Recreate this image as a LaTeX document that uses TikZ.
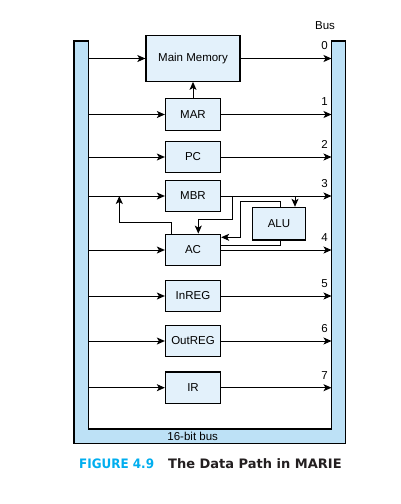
\documentclass[tikz,border=0pt]{standalone}
\usepackage{fontspec}
\setmainfont{Liberation Sans}
\newfontfamily\capfont{DejaVu Sans}
\usetikzlibrary{arrows.meta}
\definecolor{boxfill}{RGB}{227,241,251}
\definecolor{busfill}{RGB}{189,225,246}
\definecolor{figcyan}{RGB}{0,174,239}
\definecolor{captxt}{RGB}{35,31,32}
\begin{document}
\begin{tikzpicture}[x=1pt,y=-1pt,
  reg/.style={draw=black, line width=1.3pt, fill=boxfill, minimum width=55pt, minimum height=31.5pt, inner sep=0pt, font=\fontsize{11.5}{13}\selectfont},
  wire/.style={line width=1pt, draw=black},
  arr/.style={wire, -{Stealth[length=8pt,width=7pt,inset=2pt]}},
  lbl/.style={font=\fontsize{11.5}{13}\selectfont, inner sep=0pt}]
\useasboundingbox (0,0) rectangle (401,504);
\fill[white] (0,0) rectangle (401,504);
% bus
\draw[line width=1.3pt, fill=busfill] (74,41) -- (74,443.5) -- (345.5,443.5) -- (345.5,41) -- (331.5,41) -- (331.5,429) -- (88.5,429) -- (88.5,41) -- cycle;
\node[lbl] (buslbl) at (325,26) {Bus};
\node[lbl] (bitbus) at (192.7,436) {16-bit bus};
% boxes
\node[reg, minimum width=94pt, minimum height=45.5pt] (mem) at (193,58.5) {Main Memory};
\node[reg] (mar) at (193,114.5) {MAR};
\node[reg] (pc) at (193,157) {PC};
\node[reg] (mbr) at (193,196) {MBR};
\node[reg] (ac) at (193,250) {AC};
\node[reg] (inreg) at (193,296) {InREG};
\node[reg] (outreg) at (193,341) {OutREG};
\node[reg] (ir) at (193,387.7) {IR};
\node[reg, minimum width=53pt, minimum height=32.5pt] (alu) at (279,223.7) {ALU};
% bus connections
\foreach \n/\y/\k in {mem/58.5/0, mar/114.5/1, pc/157/2, mbr/196/3, ac/250/4, inreg/296/5, outreg/341/6, ir/387.7/7}{
  \coordinate (L\k) at (88.5,\y);
  \coordinate (R\k) at (331.5,\y);
  \draw[arr] (L\k) -- (\n.west);
  \draw[arr] (\n.east) -- (R\k);
  \node[lbl] (n\k) at (324.5,\y-12.5) {\k};
}
% MAR to memory
\draw[arr] (mar.north) -- (mem.south);
% MBR to ALU
\coordinate (mbrtap) at (295,196);
\draw[arr] (mbrtap) -- (mbrtap |- alu.north);
% MBR to AC
\coordinate (mbrac) at (232.3,196);
\draw[arr] (mbrac) -- (232.3,219.3) -- (198.3,219.3) -- (ac.north -| 198.3,0);
% ALU to AC
\draw[arr] ([xshift=1pt]alu.north) -- ++(0,-5) -| (240.7,237.3) -- (ac.east |- 0,237.3);
% AC to ALU
\draw[wire] (ac.east |- 0,245) -| ([xshift=1pt]alu.south);
% AC to MBR input line
\coordinate (acbus) at (119.3,196);
\draw[arr] (ac.north -| 171.7,0) |- (119.3,222.3) -- (acbus);
% caption
\node[anchor=west, inner sep=0pt, text=figcyan, font=\capfont\bfseries\fontsize{13}{15}\selectfont] (fig) at (79,464) {\scalebox{0.92}[1]{FIGURE 4.9}};
\node[anchor=west, inner sep=0pt, text=captxt, font=\capfont\bfseries\fontsize{13}{15}\selectfont] (title) at (168,464) {The Data Path in MARIE};
\end{tikzpicture}
\end{document}
